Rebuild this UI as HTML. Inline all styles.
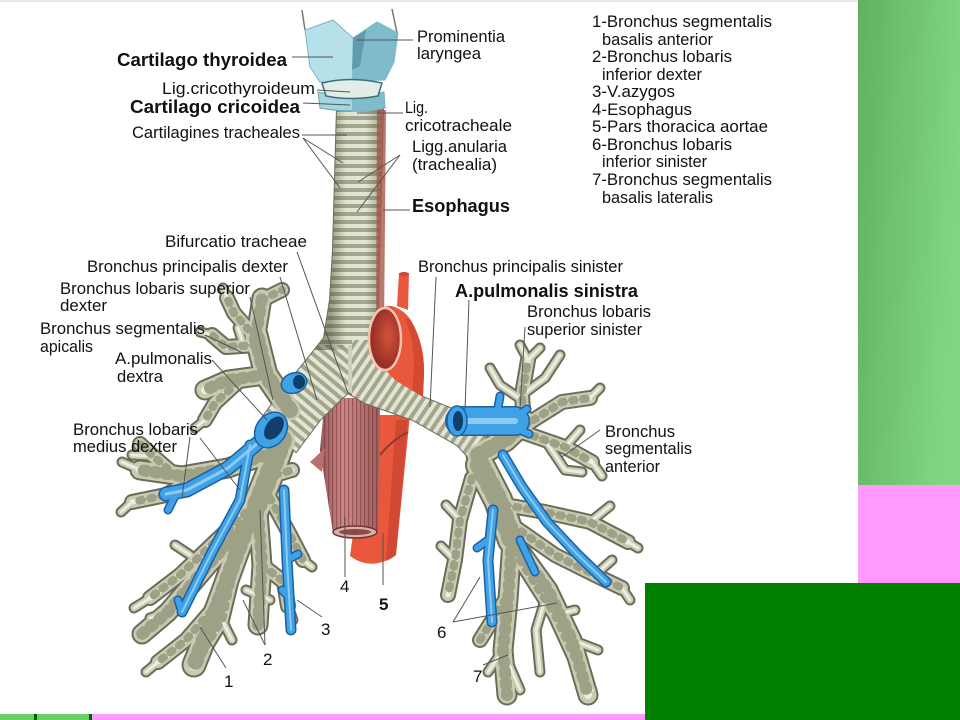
<!DOCTYPE html>
<html><head><meta charset="utf-8"><style>
html,body{margin:0;padding:0;background:#fff;}
svg{display:block;}
text{font-family:"Liberation Sans",Arial,sans-serif;fill:#111;}
.r{font-size:17px;}
.b{font-size:18px;font-weight:bold;}
</style></head><body>
<svg width="960" height="720" viewBox="0 0 960 720" xmlns="http://www.w3.org/2000/svg">
<defs>
<linearGradient id="gg" x1="0" y1="0" x2="1" y2="0.3">
<stop offset="0" stop-color="#63b063"/><stop offset="1" stop-color="#80d680"/></linearGradient>
<pattern id="stH" width="8" height="8" patternUnits="userSpaceOnUse"><rect width="8" height="8" fill="#e4e4d4"/><rect y="4" width="8" height="4" fill="#a3a68c"/></pattern>
<pattern id="stL" width="8" height="8" patternUnits="userSpaceOnUse" patternTransform="rotate(-56)"><rect width="8" height="8" fill="#e4e4d4"/><rect y="4" width="8" height="4" fill="#a3a68c"/></pattern>
<pattern id="stR" width="8" height="8" patternUnits="userSpaceOnUse" patternTransform="rotate(40)"><rect width="8" height="8" fill="#e4e4d4"/><rect y="4" width="8" height="4" fill="#a3a68c"/></pattern>
<pattern id="mus" width="4" height="10" patternUnits="userSpaceOnUse"><rect width="4" height="10" fill="#c98a88"/><rect width="1.2" height="10" fill="#a25b5b"/></pattern>
<linearGradient id="shT" gradientUnits="userSpaceOnUse" x1="330" y1="0" x2="385" y2="0">
<stop offset="0" stop-color="#3c4128" stop-opacity="0.45"/><stop offset="0.3" stop-color="#3c4128" stop-opacity="0"/><stop offset="0.65" stop-color="#3c4128" stop-opacity="0"/><stop offset="1" stop-color="#3c4128" stop-opacity="0.45"/></linearGradient>
<linearGradient id="shE" gradientUnits="userSpaceOnUse" x1="320" y1="0" x2="380" y2="0">
<stop offset="0" stop-color="#5a2020" stop-opacity="0.45"/><stop offset="0.4" stop-color="#5a2020" stop-opacity="0"/><stop offset="1" stop-color="#5a2020" stop-opacity="0.4"/></linearGradient>
<radialGradient id="ring" cx="0.6" cy="0.45" r="0.6"><stop offset="0" stop-color="#d2523c"/><stop offset="1" stop-color="#8e2a22"/></radialGradient>
<clipPath id="air"><path id="airp" d="M337,108 L333,250 L330,300 L324,338 L305,362 L282,390 L262,418 L296,452 L320,420 L340,400 L348,393 L365,403 L413,420 L457,445 L482,472 L494,446 L455,410 L423,397 L395,380 L380,355 L378,300 L383,108 Z"/></clipPath>

<g id="W26"><path d="M282,440 L268,478 L255,510"/><path d="M480,465 L498,500 L512,540"/></g>
<g id="W21"><path d="M290,410 L266,375 L256,335"/><path d="M256,505 L238,550 L218,605 L194,665"/><path d="M478,455 L505,440 L524,422"/></g>
<g id="W15"><path d="M256,335 L262,298"/><path d="M266,375 L228,380 L205,390"/><path d="M275,452 L228,468 L182,476 L140,470"/><path d="M258,512 L262,565 L258,625"/><path d="M250,520 L208,565 L168,612 L142,634"/><path d="M512,540 L508,600 L503,650 L507,695"/><path d="M512,540 L548,590 L572,640 L588,695"/></g>
<g id="W11"><path d="M256,338 L234,313 L227,298"/><path d="M256,345 L226,347 L212,335"/><path d="M238,382 L215,403 L205,420"/><path d="M202,474 L166,495 L132,502"/><path d="M176,476 L153,456 L140,444"/><path d="M254,505 L220,537 L180,575 L150,598"/><path d="M270,498 L290,535 L303,560"/><path d="M236,562 L222,620 L206,646"/><path d="M218,603 L186,640 L158,662"/><path d="M262,565 L284,582 L288,606"/><path d="M262,300 L282,290"/><path d="M265,478 L292,470"/><path d="M524,424 L522,395 L528,360"/><path d="M524,426 L562,402 L590,398"/><path d="M522,432 L565,447 L592,462"/><path d="M512,525 L555,555 L595,575 L622,588"/><path d="M505,505 L545,512 L590,522 L628,542"/><path d="M472,478 L460,520 L455,560 L448,595"/><path d="M520,560 L555,615 L578,665"/><path d="M505,600 L480,640"/></g>
<g id="W8"><path d="M140,470 L122,462"/><path d="M150,456 L132,455"/><path d="M132,502 L121,512"/><path d="M150,598 L134,608"/><path d="M158,662 L146,672"/><path d="M206,646 L200,662"/><path d="M212,335 L200,332"/><path d="M227,298 L223,288"/><path d="M205,420 L195,428"/><path d="M168,612 L150,618"/><path d="M288,606 L293,620"/><path d="M303,560 L312,567"/><path d="M242,340 L238,328"/><path d="M190,555 L175,545"/><path d="M222,620 L232,640"/><path d="M246,590 L270,600"/><path d="M522,395 L545,378 L560,355"/><path d="M522,400 L500,385 L490,368"/><path d="M508,443 L494,428"/><path d="M565,447 L580,430"/><path d="M545,440 L565,470 L582,472"/><path d="M503,650 L488,672"/><path d="M505,655 L520,690"/><path d="M548,590 L536,630 L540,672"/><path d="M590,522 L610,506"/><path d="M595,575 L612,560"/><path d="M455,560 L441,546"/><path d="M460,520 L446,505"/><path d="M528,360 L520,345"/><path d="M528,360 L540,348"/><path d="M590,398 L600,388"/><path d="M592,462 L602,476"/><path d="M572,640 L598,650"/><path d="M578,665 L592,690"/><path d="M622,588 L630,600"/><path d="M628,542 L638,548"/><path d="M555,615 L575,610"/></g>

<g id="B12"><path d="M265,437 L228,468 L187,490 L166,494"/></g>
<g id="B9"><path d="M250,445 L240,500 L212,552 L182,612"/><path d="M284,490 L287,560 L291,630"/><path d="M503,455 L522,487 L547,522 L577,554 L606,582"/><path d="M493,510 L488,560 L492,622"/></g>
<g id="B7"><path d="M287,560 L298,554"/><path d="M290,598 L282,590"/><path d="M176,494 L168,510"/><path d="M182,612 L178,600"/><path d="M497,414 L500,396"/><path d="M515,418 L527,409"/><path d="M516,428 L529,434"/><path d="M488,540 L477,548"/><path d="M520,540 L535,572"/></g>
<g id="B26"><path d="M460,421 L515,421"/></g>
</defs>

<!-- backgrounds -->
<rect width="960" height="720" fill="#fff"/>
<rect x="0" y="0" width="858" height="2" fill="#e6eaea"/>
<rect x="858" y="0" width="102" height="485" fill="url(#gg)"/>
<rect x="858" y="485" width="102" height="98" fill="#ff99ff"/>
<rect x="645" y="583" width="315" height="137" fill="#008000"/>
<rect x="0" y="714" width="92" height="6" fill="#66d066"/>
<rect x="34" y="714" width="3" height="6" fill="#006000"/>
<rect x="89" y="714" width="3" height="6" fill="#006000"/>
<rect x="92" y="714" width="553" height="6" fill="#ff99ff"/>

<!-- descending aorta -->
<path d="M378,415 L410,415 L396,555 Q372,572 350,556 L355,520 Z" fill="#e9573c"/>
<path d="M396,420 L408,420 L396,555 Q390,560 386,561 Z" fill="#c23f2c" opacity="0.6"/>
<!-- esophagus -->
<path d="M325,398 L380,398 L378,530 Q355,540 333,533 L320,450 Z" fill="url(#mus)"/>
<path d="M325,398 L380,398 L378,530 Q355,540 333,533 L320,450 Z" fill="url(#shE)"/>
<path d="M325,448 L310,462 L322,472 Z" fill="#b87070"/>
<ellipse cx="355" cy="532" rx="22" ry="6" fill="#d9b0a8" stroke="#6b3434" stroke-width="1.5"/>
<ellipse cx="355" cy="532" rx="16" ry="3" fill="#8a4a48"/>
<path d="M380,455 Q392,440 408,432" stroke="#8a3a30" stroke-width="2" fill="none"/>

<!-- bronchi outline layer -->
<g fill="none" stroke="#6b6d58" stroke-linecap="round" stroke-linejoin="round">
<use href="#W26" stroke-width="30"/><use href="#W21" stroke-width="25"/><use href="#W15" stroke-width="21"/><use href="#W11" stroke-width="16"/><use href="#W8" stroke-width="11"/>
</g>
<!-- airway -->
<use href="#airp" fill="#cfd0ba" stroke="#6b6d58" stroke-width="2"/>
<g clip-path="url(#air)">
<rect x="300" y="100" width="100" height="245" fill="url(#stH)"/>
<path d="M352,340 L500,340 L500,490 L352,490 L352,395 Z" fill="url(#stL)"/>
<path d="M348,345 L250,345 L250,470 L348,470 Z" fill="url(#stR)"/>
<rect x="300" y="100" width="100" height="250" fill="url(#shT)"/>
<path d="M345,398 L500,470 L500,490 L345,420 Z" fill="#3c4128" opacity="0.25"/>
</g>
<!-- bronchi body -->
<g fill="none" stroke-linecap="round" stroke-linejoin="round">
<g stroke="#c9cab2"><use href="#W26" stroke-width="26"/><use href="#W21" stroke-width="21"/><use href="#W15" stroke-width="17"/><use href="#W11" stroke-width="12"/><use href="#W8" stroke-width="7"/></g>
<g stroke="#ecece0"><use href="#W26" stroke-width="13"/><use href="#W21" stroke-width="11"/><use href="#W15" stroke-width="8"/><use href="#W11" stroke-width="5"/><use href="#W8" stroke-width="3"/></g>
<g stroke="#9ea186" stroke-dasharray="3 8"><use href="#W26" stroke-width="20"/><use href="#W21" stroke-width="16"/><use href="#W15" stroke-width="12"/><use href="#W11" stroke-width="8"/></g>
</g>
<!-- esophagus strip on trachea -->
<path d="M377,110 L386,110 L384,330 L376,330 Z" fill="#a8584a" opacity="0.8"/>

<!-- aortic arch (front) -->
<path d="M397,306 L399,273 L409,273 L408,310 Z" fill="#e9573c"/>
<ellipse cx="404" cy="274" rx="5" ry="2" fill="#c94a34"/>
<path d="M370,340 Q368,305 392,306 Q405,310 412,322 Q425,345 424,375 L423,397 L395,380 L378,362 Z" fill="#e9573c"/>
<path d="M410,320 Q425,345 424,375 L423,397 L412,390 Q418,350 405,318 Z" fill="#c4402c" opacity="0.6"/>
<ellipse cx="385" cy="339" rx="16" ry="31" fill="url(#ring)" stroke="#f3c4ae" stroke-width="2.5"/>

<!-- blue vessels -->
<g fill="none" stroke-linecap="round" stroke-linejoin="round">
<g stroke="#1b61a3"><use href="#B26" stroke-width="30"/><use href="#B12" stroke-width="15"/><use href="#B9" stroke-width="11"/><use href="#B7" stroke-width="9"/></g>
<g stroke="#3fa1e6"><use href="#B26" stroke-width="27"/><use href="#B12" stroke-width="12"/><use href="#B9" stroke-width="8"/><use href="#B7" stroke-width="6"/></g>
<g stroke="#8ccaf2"><use href="#B26" stroke-width="6"/><use href="#B12" stroke-width="3"/><use href="#B9" stroke-width="2"/></g>
</g>
<ellipse cx="294" cy="383" rx="13" ry="10" transform="rotate(-20 294 383)" fill="#3fa1e6" stroke="#1b61a3" stroke-width="1.5"/>
<ellipse cx="299" cy="382" rx="6" ry="7" fill="#0f3f6a"/>
<ellipse cx="271" cy="430" rx="15" ry="19" transform="rotate(35 271 430)" fill="#3fa1e6" stroke="#1b61a3" stroke-width="1.5"/>
<ellipse cx="274" cy="428" rx="8" ry="13" transform="rotate(35 274 428)" fill="#0f3f6a"/>
<ellipse cx="457" cy="421" rx="10" ry="15" fill="#3fa1e6" stroke="#1b61a3" stroke-width="1.5"/>
<ellipse cx="458" cy="421" rx="5" ry="10" fill="#0f3f6a"/>

<!-- larynx -->
<line x1="305" y1="30" x2="302" y2="10" stroke="#777" stroke-width="1.5"/>
<line x1="397" y1="33" x2="392" y2="9" stroke="#777" stroke-width="1.5"/>
<path d="M318,92 Q350,100 384,92 L385,108 Q350,114 320,108 Z" fill="#a3d6e0" stroke="#6aa5b4" stroke-width="1"/>
<path d="M352,99 Q370,97 384,92 L385,108 Q370,112 352,112 Z" fill="#7fbccb"/>
<path d="M305,30 L333,20 L353,38 L377,22 L398,33 L394,62 L385,80 L320,82 L310,67 Z" fill="#b6e1ea" stroke="#7fb3c0" stroke-width="1"/>
<path d="M353,38 L377,22 L398,33 L394,62 L385,80 L352,82 Z" fill="#7fbccb"/>
<path d="M353,38 L366,30 L360,66 L352,70 Z" fill="#5e9cad"/>
<path d="M322,83 Q350,76 382,83 L378,96 Q350,101 326,96 Z" fill="#e2ece8" stroke="#3f6f78" stroke-width="1.5"/>

<!-- leader lines -->
<g stroke="#555" stroke-width="1" fill="none">
<line x1="292" y1="57" x2="333" y2="57"/>
<line x1="413" y1="40" x2="357" y2="40"/>
<line x1="317" y1="90" x2="350" y2="92"/>
<line x1="303" y1="103" x2="350" y2="105"/>
<line x1="403" y1="113" x2="357" y2="113"/>
<line x1="302" y1="135" x2="347" y2="135"/>
<line x1="303" y1="138" x2="343" y2="163"/>
<line x1="303" y1="138" x2="340" y2="188"/>
<line x1="400" y1="155" x2="358" y2="182"/>
<line x1="400" y1="155" x2="357" y2="212"/>
<line x1="410" y1="210" x2="383" y2="210"/>
<line x1="297" y1="252" x2="348" y2="393"/>
<line x1="280" y1="277" x2="317" y2="400"/>
<line x1="250" y1="297" x2="273" y2="400"/>
<line x1="205" y1="335" x2="243" y2="353"/>
<line x1="212" y1="360" x2="267" y2="420"/>
<line x1="190" y1="437" x2="182" y2="498"/>
<line x1="200" y1="438" x2="240" y2="490"/>
<line x1="436" y1="277" x2="430" y2="407"/>
<line x1="469" y1="300" x2="465" y2="410"/>
<line x1="525" y1="327" x2="520" y2="410"/>
<line x1="600" y1="430" x2="562" y2="457"/>
<line x1="226" y1="668" x2="200" y2="627"/>
<line x1="265" y1="645" x2="260" y2="510"/>
<line x1="265" y1="645" x2="243" y2="600"/>
<line x1="322" y1="617" x2="297" y2="600"/>
<line x1="345" y1="577" x2="345" y2="517"/>
<line x1="383" y1="585" x2="383" y2="533"/>
<line x1="453" y1="622" x2="480" y2="577"/>
<line x1="453" y1="622" x2="557" y2="603"/>
<line x1="483" y1="665" x2="508" y2="655"/>
</g>

<!-- labels -->
<text class="b" x="117" y="66" textLength="170" lengthAdjust="spacingAndGlyphs">Cartilago thyroidea</text>
<text class="r" x="417" y="42" textLength="88" lengthAdjust="spacingAndGlyphs">Prominentia</text>
<text class="r" x="417" y="59" textLength="64" lengthAdjust="spacingAndGlyphs">laryngea</text>
<text class="r" x="162" y="94" textLength="153" lengthAdjust="spacingAndGlyphs">Lig.cricothyroideum</text>
<text class="b" x="130" y="113" textLength="170" lengthAdjust="spacingAndGlyphs">Cartilago cricoidea</text>
<text class="r" x="405" y="113" textLength="23" lengthAdjust="spacingAndGlyphs">Lig.</text>
<text class="r" x="405" y="131" textLength="107" lengthAdjust="spacingAndGlyphs">cricotracheale</text>
<text class="r" x="132" y="138" textLength="168" lengthAdjust="spacingAndGlyphs">Cartilagines tracheales</text>
<text class="r" x="412" y="152" textLength="95" lengthAdjust="spacingAndGlyphs">Ligg.anularia</text>
<text class="r" x="412" y="170" textLength="85" lengthAdjust="spacingAndGlyphs">(trachealia)</text>
<text class="b" x="412" y="212" textLength="98" lengthAdjust="spacingAndGlyphs">Esophagus</text>

<text class="r" x="165" y="247" textLength="142" lengthAdjust="spacingAndGlyphs">Bifurcatio tracheae</text>
<text class="r" x="87" y="272" textLength="201" lengthAdjust="spacingAndGlyphs">Bronchus principalis dexter</text>
<text class="r" x="60" y="294" textLength="190" lengthAdjust="spacingAndGlyphs">Bronchus lobaris superior</text>
<text class="r" x="60" y="311" textLength="47" lengthAdjust="spacingAndGlyphs">dexter</text>
<text class="r" x="40" y="334" textLength="165" lengthAdjust="spacingAndGlyphs">Bronchus segmentalis</text>
<text class="r" x="40" y="352" textLength="53" lengthAdjust="spacingAndGlyphs">apicalis</text>
<text class="r" x="115" y="364" textLength="97" lengthAdjust="spacingAndGlyphs">A.pulmonalis</text>
<text class="r" x="117" y="382" textLength="46" lengthAdjust="spacingAndGlyphs">dextra</text>
<text class="r" x="73" y="435" textLength="125" lengthAdjust="spacingAndGlyphs">Bronchus lobaris</text>
<text class="r" x="73" y="452" textLength="104" lengthAdjust="spacingAndGlyphs">medius dexter</text>

<text class="r" x="418" y="272" textLength="205" lengthAdjust="spacingAndGlyphs">Bronchus principalis sinister</text>
<text class="b" x="455" y="297" textLength="183" lengthAdjust="spacingAndGlyphs">A.pulmonalis sinistra</text>
<text class="r" x="527" y="317" textLength="124" lengthAdjust="spacingAndGlyphs">Bronchus lobaris</text>
<text class="r" x="527" y="335" textLength="115" lengthAdjust="spacingAndGlyphs">superior sinister</text>
<text class="r" x="605" y="437" textLength="70" lengthAdjust="spacingAndGlyphs">Bronchus</text>
<text class="r" x="605" y="454" textLength="87" lengthAdjust="spacingAndGlyphs">segmentalis</text>
<text class="r" x="605" y="472" textLength="55" lengthAdjust="spacingAndGlyphs">anterior</text>

<text class="r" x="592" y="27" textLength="180" lengthAdjust="spacingAndGlyphs">1-Bronchus segmentalis</text>
<text class="r" x="602" y="45" textLength="111" lengthAdjust="spacingAndGlyphs">basalis anterior</text>
<text class="r" x="592" y="62" textLength="140" lengthAdjust="spacingAndGlyphs">2-Bronchus lobaris</text>
<text class="r" x="602" y="80" textLength="100" lengthAdjust="spacingAndGlyphs">inferior dexter</text>
<text class="r" x="592" y="97" textLength="83" lengthAdjust="spacingAndGlyphs">3-V.azygos</text>
<text class="r" x="592" y="115" textLength="100" lengthAdjust="spacingAndGlyphs">4-Esophagus</text>
<text class="r" x="592" y="132" textLength="176" lengthAdjust="spacingAndGlyphs">5-Pars thoracica aortae</text>
<text class="r" x="592" y="150" textLength="140" lengthAdjust="spacingAndGlyphs">6-Bronchus lobaris</text>
<text class="r" x="602" y="167" textLength="105" lengthAdjust="spacingAndGlyphs">inferior sinister</text>
<text class="r" x="592" y="185" textLength="180" lengthAdjust="spacingAndGlyphs">7-Bronchus segmentalis</text>
<text class="r" x="602" y="203" textLength="111" lengthAdjust="spacingAndGlyphs">basalis lateralis</text>

<text class="r" x="224" y="687">1</text>
<text class="r" x="263" y="665">2</text>
<text class="r" x="321" y="635">3</text>
<text class="r" x="340" y="592">4</text>
<text class="r" x="379" y="610" font-weight="bold">5</text>
<text class="r" x="437" y="638">6</text>
<text class="r" x="473" y="682">7</text>
</svg>
</body></html>
